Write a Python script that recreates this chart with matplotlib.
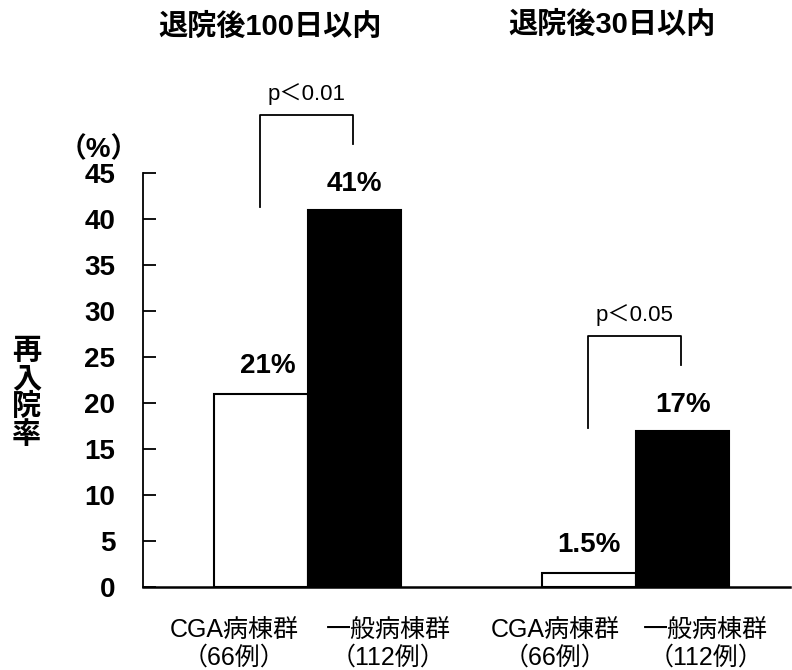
import numpy as np
import matplotlib
matplotlib.use("Agg")
import matplotlib.pyplot as plt

plt.rcParams["font.family"] = ["Liberation Sans", "Noto Sans CJK JP", "DejaVu Sans"]

# data
periods = ["退院後100日以内", "退院後30日以内"]
groups = ["CGA病棟群\n（66例）", "一般病棟群\n（112例）"]
cga_rate = [21, 1.5]
general_rate = [41, 17]
rate_labels_cga = ["21%", "1.5%"]
rate_labels_general = ["41%", "17%"]
p_texts = ["p＜0.01", "p＜0.05"]

fig = plt.figure(figsize=(7.92, 6.70), dpi=100)
ax = fig.add_axes([143 / 792, 83 / 670, 647 / 792, 414 / 670])

x = np.arange(len(periods))
w = 0.285
ax.bar(x - w / 2, cga_rate, w, color="white", edgecolor="black", linewidth=1.5)
ax.bar(x + w / 2, general_rate, w, color="black", edgecolor="black", linewidth=1.5)

# value labels
cga_shift = [0.02, 0.0]
for i in range(len(x)):
    ax.annotate(rate_labels_cga[i], (x[i] - w / 2 + cga_shift[i], cga_rate[i]), xytext=(0, 11),
                textcoords="offset points", ha="center", va="bottom",
                fontsize=20, fontweight="bold")
    ax.annotate(rate_labels_general[i], (x[i] + w / 2, general_rate[i]), xytext=(0, 9),
                textcoords="offset points", ha="center", va="bottom",
                fontsize=20, fontweight="bold")

# significance brackets
for i in range(len(x)):
    top = general_rate[i] + 10.3
    xl, xr = x[i] - w / 2 - 0.005, x[i] + w / 2 - 0.005
    ax.plot([xl, xl, xr, xr], [general_rate[i] + 0.3, top, top, top - 3.2],
            color="black", lw=1.3, clip_on=False)
    ax.text((xl + xr) / 2, top + 1.1, p_texts[i], ha="center", va="bottom", fontsize=16)

ax.set_xlim(-0.503, 1.47)
ax.set_ylim(0, 45)
ax.set_yticks(np.arange(0, 46, 5))
ax.tick_params(axis="y", direction="in", length=9, width=1.3, labelsize=20, pad=20)
for t in ax.get_yticklabels():
    t.set_fontweight("bold")

ax.set_xticks([-0.226, 0.244, 0.753, 1.213])
ax.set_xticklabels(groups * 2, fontsize=18, linespacing=1.2)
ax.tick_params(axis="x", length=0, pad=22)

ax.spines["top"].set_visible(False)
ax.spines["right"].set_visible(False)
ax.spines["left"].set_linewidth(1.3)
ax.spines["bottom"].set_linewidth(1.8)

# titles and axis label
fig.text(270 / 792, 1 - 27 / 670, periods[0], ha="center", va="center",
         fontsize=21, fontweight="bold")
fig.text(612 / 792, 1 - 25 / 670, periods[1], ha="center", va="center",
         fontsize=21, fontweight="bold")
fig.text(99 / 792, 1 - 150 / 670, "（%）", ha="center", va="center",
         fontsize=20, fontweight="bold")
fig.text(27 / 792, 1 - 393 / 670, "\n".join("再入院率"), ha="center", va="center",
         fontsize=21, fontweight="bold", linespacing=1.0)

fig.savefig("out.png", dpi=100)
